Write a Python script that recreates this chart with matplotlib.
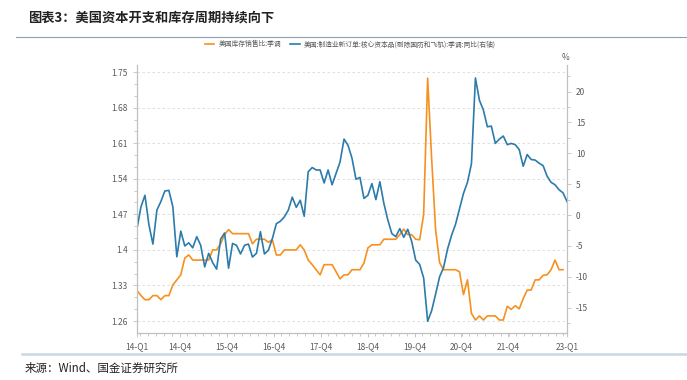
import numpy as np
import matplotlib
matplotlib.use("Agg")
import matplotlib.pyplot as plt
from matplotlib.ticker import FixedLocator, AutoMinorLocator, MultipleLocator

plt.rcParams['font.family'] = ['Noto Sans CJK SC', 'DejaVu Sans']
plt.rcParams['axes.unicode_minus'] = False

# 美国库存销售比:季调 (left axis), monthly from 2014-01
inv_sales = [1.320, 1.310, 1.302, 1.302, 1.310, 1.310, 1.302, 1.310, 1.310, 1.331,
             1.341, 1.351, 1.384, 1.390, 1.380, 1.380, 1.380, 1.380, 1.380, 1.400,
             1.400, 1.412, 1.430, 1.440, 1.432, 1.432, 1.432, 1.432, 1.432, 1.412,
             1.421, 1.421, 1.421, 1.415, 1.420, 1.390, 1.390, 1.400, 1.400, 1.400,
             1.400, 1.410, 1.400, 1.380, 1.371, 1.361, 1.351, 1.371, 1.371, 1.371,
             1.357, 1.343, 1.351, 1.351, 1.361, 1.361, 1.361, 1.374, 1.404, 1.410,
             1.410, 1.410, 1.421, 1.421, 1.421, 1.421, 1.430, 1.441, 1.430, 1.430,
             1.421, 1.420, 1.470, 1.738, 1.580, 1.440, 1.375, 1.361, 1.361, 1.361,
             1.361, 1.357, 1.312, 1.341, 1.275, 1.262, 1.270, 1.262, 1.270, 1.270,
             1.270, 1.262, 1.262, 1.289, 1.283, 1.290, 1.284, 1.304, 1.321, 1.321,
             1.341, 1.341, 1.350, 1.351, 1.361, 1.380, 1.361, 1.361]

# 美国:制造业新订单:核心资本品:季调:同比 (right axis, %)
core_capex = [-2.2, 1.35, 3.2, -1.6, -4.7, 0.8, 2.2, 3.9, 4.0, 1.35,
              -6.75, -2.6, -5.0, -4.5, -5.3, -3.5, -4.9, -8.4, -6.2, -7.7,
              -8.75, -3.9, -2.9, -8.6, -4.6, -4.9, -6.3, -4.9, -4.7, -6.8,
              -6.2, -2.7, -6.3, -5.7, -3.8, -1.4, -1.0, -0.3, 0.8, 2.9,
              1.25, 2.4, -0.2, 7.0, 7.7, 7.3, 7.3, 5.2, 7.3, 4.9,
              6.75, 8.6, 12.3, 11.3, 9.2, 5.8, 6.1, 2.7, 3.2, 5.1,
              2.5, 5.4, 1.9, -0.8, -3.0, -3.5, -2.2, -3.6, -2.3, -4.3,
              -7.3, -8.0, -10.2, -17.2, -15.5, -12.8, -10.0, -8.5, -5.5, -3.3,
              -1.5, 1.0, 3.5, 5.3, 8.3, 22.2, 18.6, 17.0, 14.3, 14.4,
              11.6, 12.3, 12.8, 11.4, 11.6, 11.4, 10.6, 7.9, 9.8, 9.0,
              8.9, 8.4, 8.0, 6.3, 5.3, 4.9, 4.1, 3.6, 2.2]

tick_labels = ["14-Q1", "14-Q4", "15-Q4", "16-Q4", "17-Q4", "18-Q4",
               "19-Q4", "20-Q4", "21-Q4", "23-Q1"]
tick_pos = [0] + [10.7 + 11.8 * i for i in range(8)] + [108]

orange = "#f7901e"
blue = "#2b7bab"
grey = "#5a5a5a"
spine_c = "#c0c0c0"

fig = plt.figure(figsize=(6.87, 3.80), dpi=100)
ax = fig.add_axes([137 / 687, 1 - 332.7 / 380, 430 / 687, (332.7 - 65) / 380])
ax2 = ax.twinx()

x1 = np.arange(len(inv_sales))
x2 = np.arange(len(core_capex))
l1, = ax.plot(x1, inv_sales, color=orange, lw=1.2, label="美国库存销售比:季调")
l2, = ax2.plot(x2, core_capex, color=blue, lw=1.2,
               label="美国:制造业新订单:核心资本品(剔除国防和飞机):季调:同比(右轴)")

ax.set_xlim(0, 108)
ax.set_ylim(1.237, 1.764)
ax2.set_ylim(-19.05, 24.3)

ax.set_yticks([1.26, 1.33, 1.40, 1.47, 1.54, 1.61, 1.68, 1.75])
ax.set_yticklabels(["1.26", "1.33", "1.4", "1.47", "1.54", "1.61", "1.68", "1.75"])
ax.yaxis.set_minor_locator(AutoMinorLocator(3))
ax2.set_yticks([-15, -10, -5, 0, 5, 10, 15, 20])
ax2.yaxis.set_minor_locator(MultipleLocator(2.5))

ax.set_xticks(tick_pos)
ax.set_xticklabels(tick_labels)
ax.xaxis.set_minor_locator(FixedLocator(np.arange(10.7 - 5 * 1.967, 108, 1.967)))

ax.grid(axis="y", which="major", color="#d9d9d9", ls=(0, (3, 3)), lw=0.6)

for a in (ax, ax2):
    a.spines["top"].set_visible(False)
    for s in ("left", "right", "bottom"):
        a.spines[s].set_color(spine_c)
        a.spines[s].set_linewidth(0.8)
    a.tick_params(which="both", colors=spine_c, labelcolor=grey, labelsize=6, width=0.6)
    a.tick_params(which="major", length=3)
    a.tick_params(which="minor", length=2)

fig.text(565 / 687, 1 - 57 / 380, "%", fontsize=6, color=grey, ha="center", va="center")

fig.legend(handles=[l1, l2], loc="center", bbox_to_anchor=(0.51, 1 - 44.3 / 380),
           ncol=2, frameon=False, fontsize=4.9, labelcolor=grey,
           handlelength=1.4, columnspacing=1.4, handletextpad=0.6)

fig.text(28 / 687, 1 - 18 / 380, "图表3：美国资本开支和库存周期持续向下", fontsize=9.5,
         fontweight="bold", color="#222222", ha="left", va="center")
fig.add_artist(plt.Line2D([16 / 687, 1], [1 - 36.5 / 380] * 2, color="#8da0b3", lw=0.8))
fig.add_artist(plt.Line2D([22 / 687, 1], [1 - 354 / 380] * 2, color="#c9d7e2", lw=1.8))
fig.text(25 / 687, 1 - 368 / 380, "来源：Wind、国金证券研究所", fontsize=8.3,
         color="#222222", ha="left", va="center")

fig.savefig("out.png", dpi=100)
